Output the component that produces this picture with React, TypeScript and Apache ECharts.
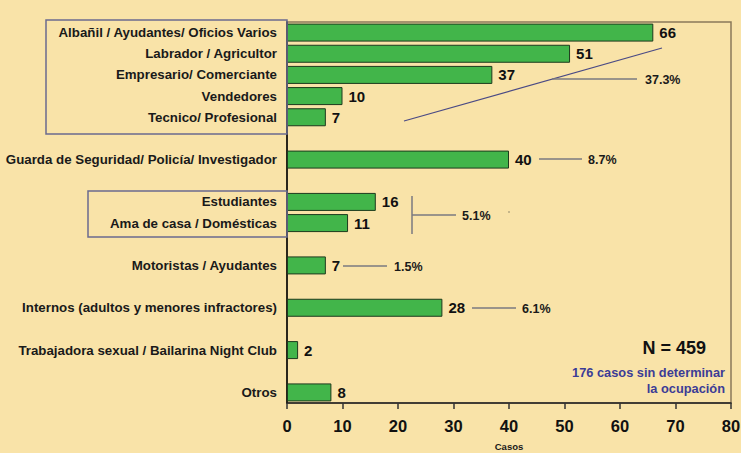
import React, { useEffect, useRef } from "react";
import * as echarts from "echarts";

const categories: string[] = [
  "Albañil / Ayudantes/ Oficios Varios",
  "Labrador / Agricultor",
  "Empresario/ Comerciante",
  "Vendedores",
  "Tecnico/ Profesional",
  " ",
  "Guarda de Seguridad/ Policía/ Investigador",
  "  ",
  "Estudiantes",
  "Ama de casa / Domésticas",
  "   ",
  "Motoristas / Ayudantes",
  "    ",
  "Internos (adultos y menores infractores)",
  "     ",
  "Trabajadora sexual / Bailarina Night Club",
  "      ",
  "Otros",
];

const casos: (number | null)[] = [66, 51, 37, 10, 7, null, 40, null, 16, 11, null, 7, null, 28, null, 2, null, 8];

const xTicks = { min: 0, max: 80, interval: 10 };

const percentLabels = ["37.3%", "8.7%", "5.1%", "1.5%", "6.1%"];
const totalLabel = "N = 459";
const noteLines = ["176 casos sin determinar", "la ocupación"];

const FONT = "'Liberation Sans', Arial, Helvetica, sans-serif";
const BG = "#F9E3A8";
const LINE_GRAY = "#7a7a80";
const LINE_BLUE = "#4a4a85";

export default function App() {
  const ref = useRef<HTMLDivElement>(null);
  useEffect(() => {
    if (!ref.current) return;
    const chart = echarts.init(ref.current, undefined, { renderer: "svg" });
    const pctStyle = { fontFamily: FONT, fontWeight: "bold", fontSize: 12.5, fill: "#1a1a1a", textVerticalAlign: "middle" } as any;
    chart.setOption({
      animation: false,
      backgroundColor: BG,
      textStyle: { fontFamily: FONT },
      grid: {
        left: 287,
        right: 10,
        top: 22,
        bottom: 50,
        containLabel: false,
        outerBoundsMode: "none",
        show: true,
        borderColor: "#8a7a5a",
        borderWidth: 1.5,
        backgroundColor: "transparent",
      },
      xAxis: {
        type: "value",
        min: xTicks.min,
        max: xTicks.max,
        interval: xTicks.interval,
        name: "Casos",
        nameLocation: "middle",
        nameGap: 38,
        nameTextStyle: { fontFamily: FONT, fontWeight: "bold", fontSize: 9.5, color: "#1a1a1a" },
        axisLine: { show: true, lineStyle: { color: "#222", width: 1.5 } },
        axisTick: { show: true, length: 6, lineStyle: { color: "#333", width: 1.5 } },
        splitLine: { show: false },
        axisLabel: { fontFamily: FONT, fontWeight: "bold", fontSize: 16.5, color: "#111", margin: 14 },
      },
      yAxis: {
        type: "category",
        data: categories,
        inverse: true,
        axisLine: { show: true, lineStyle: { color: "#000", width: 1.5 } },
        axisTick: { show: false },
        axisLabel: { fontFamily: FONT, fontWeight: "bold", fontSize: 13.3, color: "#1a1a1a", margin: 10, interval: 0 },
        splitLine: { show: false },
      },
      series: [
        {
          type: "bar",
          data: casos,
          barWidth: 18,
          itemStyle: { color: "#42B54A", borderColor: "#1d3a1d", borderWidth: 1 },
          label: {
            show: true,
            position: "right",
            distance: 6,
            fontFamily: FONT,
            fontWeight: "bold",
            fontSize: 15,
            color: "#111",
          },
        },
      ],
      graphic: [
        { type: "rect", shape: { x: 46, y: 20, width: 241, height: 114 }, style: { fill: "none", stroke: "#6b6b8e", lineWidth: 1.5 }, z: 10 },
        { type: "rect", shape: { x: 88, y: 191, width: 199, height: 46 }, style: { fill: "none", stroke: "#6b6b8e", lineWidth: 1.5 }, z: 10 },
        { type: "line", shape: { x1: 404, y1: 121, x2: 662, y2: 48 }, style: { stroke: LINE_BLUE, lineWidth: 1.2 }, z: 10 },
        { type: "line", shape: { x1: 552, y1: 79, x2: 637, y2: 79 }, style: { stroke: LINE_GRAY, lineWidth: 1.5 }, z: 10 },
        { type: "text", x: 645, y: 80, style: { ...pctStyle, text: percentLabels[0] }, z: 10 },
        { type: "line", shape: { x1: 539, y1: 159, x2: 582, y2: 159 }, style: { stroke: LINE_GRAY, lineWidth: 1.5 }, z: 10 },
        { type: "text", x: 588, y: 160, style: { ...pctStyle, text: percentLabels[1] }, z: 10 },
        { type: "line", shape: { x1: 412, y1: 196, x2: 412, y2: 234 }, style: { stroke: LINE_GRAY, lineWidth: 1.5 }, z: 10 },
        { type: "line", shape: { x1: 412, y1: 215, x2: 456, y2: 215 }, style: { stroke: LINE_GRAY, lineWidth: 1.5 }, z: 10 },
        { type: "text", x: 462, y: 216, style: { ...pctStyle, text: percentLabels[2] }, z: 10 },
        { type: "rect", shape: { x: 508.5, y: 211.5, width: 1, height: 1 }, style: { fill: "#333" }, z: 10 },
        { type: "line", shape: { x1: 343, y1: 266, x2: 387, y2: 266 }, style: { stroke: LINE_GRAY, lineWidth: 1.5 }, z: 10 },
        { type: "text", x: 394, y: 267, style: { ...pctStyle, text: percentLabels[3] }, z: 10 },
        { type: "line", shape: { x1: 472, y1: 308, x2: 516, y2: 308 }, style: { stroke: LINE_GRAY, lineWidth: 1.5 }, z: 10 },
        { type: "text", x: 522, y: 309, style: { ...pctStyle, text: percentLabels[4] }, z: 10 },
        {
          type: "text",
          x: 706,
          y: 348,
          style: { text: totalLabel, fontFamily: FONT, fontWeight: "bold", fontSize: 18, fill: "#111", textAlign: "right", textVerticalAlign: "middle" },
          z: 10,
        },
        {
          type: "text",
          x: 725,
          y: 372,
          style: { text: noteLines[0], fontFamily: FONT, fontWeight: "bold", fontSize: 12.8, fill: "#3c3c96", textAlign: "right", textVerticalAlign: "middle" },
          z: 10,
        },
        {
          type: "text",
          x: 725,
          y: 388,
          style: { text: noteLines[1], fontFamily: FONT, fontWeight: "bold", fontSize: 12.8, fill: "#3c3c96", textAlign: "right", textVerticalAlign: "middle" },
          z: 10,
        },
      ],
    });
    return () => chart.dispose();
  }, []);
  return <div ref={ref} style={{ width: 741, height: 453, position: "fixed", left: 0, top: 0 }} />;
}
